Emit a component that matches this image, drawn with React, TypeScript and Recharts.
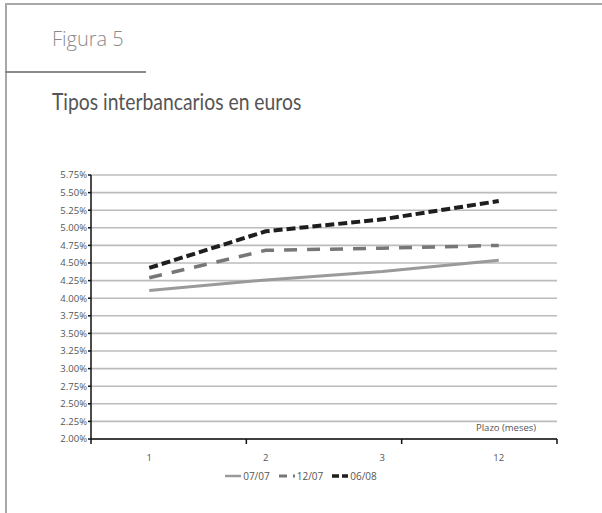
import { CartesianGrid, Legend, Line, LineChart, XAxis, YAxis } from 'recharts'

const plazos = ['1', '2', '3', '12']
const jul07 = [4.11, 4.26, 4.38, 4.54]
const dic07 = [4.29, 4.68, 4.71, 4.75]
const jun08 = [4.43, 4.95, 5.12, 5.38]
const yTicks = [2, 2.25, 2.5, 2.75, 3, 3.25, 3.5, 3.75, 4, 4.25, 4.5, 4.75, 5, 5.25, 5.5, 5.75]
const bandEdges = [0, 1, 2, 3, 4]

const series = [
  { key: 'jul07', name: '07/07', color: '#9a9a9a', width: 3, dash: undefined as string | undefined, icon: undefined as string | undefined },
  { key: 'dic07', name: '12/07', color: '#777777', width: 3.5, dash: '13 10', icon: '8 6' },
  { key: 'jun08', name: '06/08', color: '#1e1e1e', width: 4, dash: '9 4', icon: '7 3' },
]

const data = plazos.map((p, i) => ({
  plazo: p,
  jul07: jul07[i],
  dic07: dic07[i],
  jun08: jun08[i],
}))

const tickFont = { fontSize: 9.5, fill: '#555', fontFamily: 'Open Sans' }

function LegendRow() {
  return (
    <div
      style={{
        display: 'flex',
        justifyContent: 'center',
        gap: 9,
        fontFamily: 'Open Sans',
        fontSize: 10,
        color: '#555',
        paddingLeft: 14,
      }}
    >
      {series.map((s) => (
        <span key={s.key} style={{ display: 'flex', alignItems: 'center' }}>
          <svg width={16} height={10} style={{ marginRight: 2 }}>
            <line x1={0} y1={5} x2={16} y2={5} stroke={s.color} strokeWidth={s.width - 0.5} strokeDasharray={s.icon} />
          </svg>
          {s.name}
        </span>
      ))}
    </div>
  )
}

export default function App() {
  return (
    <div
      style={{
        position: 'absolute',
        left: 0,
        top: 0,
        width: 602,
        height: 513,
        background: '#fff',
        overflow: 'hidden',
      }}
    >
      <div style={{ position: 'absolute', left: 5, top: 3, width: 597, height: 2, background: '#a8a8a8' }} />
      <div style={{ position: 'absolute', left: 5, top: 3, width: 2, height: 510, background: '#a8a8a8' }} />
      <div style={{ position: 'absolute', left: 5, top: 71, width: 141, height: 1.5, background: '#8a8a8a' }} />
      <div
        style={{
          position: 'absolute',
          left: 52,
          top: 26,
          fontFamily: 'Open Sans',
          fontWeight: 300,
          fontSize: 20,
          lineHeight: '26px',
          color: '#8a8a8a',
          whiteSpace: 'nowrap',
        }}
      >
        Figura 5
      </div>
      <div
        style={{
          position: 'absolute',
          left: 52,
          top: 86,
          fontFamily: 'Lato',
          fontSize: 23,
          lineHeight: '30px',
          color: '#555',
          transform: 'scaleX(0.84)',
          transformOrigin: 'left center',
          whiteSpace: 'nowrap',
        }}
      >
        Tipos interbancarios en euros
      </div>

      <div style={{ position: 'absolute', left: 0, top: 150 }}>
        <LineChart width={602} height={345} data={data} margin={{ top: 25, right: 45, left: 31, bottom: 12 }}>
          <CartesianGrid vertical={false} stroke="#bcbcbc" strokeWidth={1.6} />
          {/* band boundary ticks sit on a separate numeric axis */}
          <XAxis
            xAxisId="base"
            type="number"
            domain={[0, 4]}
            ticks={bandEdges}
            tick={() => <g />}
            tickSize={5}
            height={1}
            axisLine={{ stroke: '#111', strokeWidth: 1.5 }}
            tickLine={{ stroke: '#111', strokeWidth: 1.5 }}
          />
          <XAxis
            dataKey="plazo"
            xAxisId="plazo"
            scale="band"
            tickLine={false}
            axisLine={false}
            tick={tickFont}
            height={29}
            tickMargin={8}
          />
          <YAxis
            domain={[2, 5.75]}
            ticks={yTicks}
            interval={0}
            width={60}
            tick={tickFont}
            tickSize={3}
            tickMargin={1}
            axisLine={{ stroke: '#111', strokeWidth: 1.5 }}
            tickLine={{ stroke: '#111', strokeWidth: 1.5 }}
            tickFormatter={(v: number) => `${v.toFixed(2)}%`}
          />
          <Legend verticalAlign="bottom" content={() => <LegendRow />} />
          {series.map((s) => (
            <Line
              key={s.key}
              xAxisId="plazo"
              type="linear"
              dataKey={s.key}
              name={s.name}
              stroke={s.color}
              strokeWidth={s.width}
              strokeDasharray={s.dash}
              dot={false}
              activeDot={false}
              isAnimationActive={false}
            />
          ))}
        </LineChart>
      </div>
      <div
        style={{
          position: 'absolute',
          left: 476,
          top: 421,
          fontFamily: 'Open Sans',
          fontSize: 9.5,
          color: '#555',
        }}
      >
        Plazo (meses)
      </div>
    </div>
  )
}
